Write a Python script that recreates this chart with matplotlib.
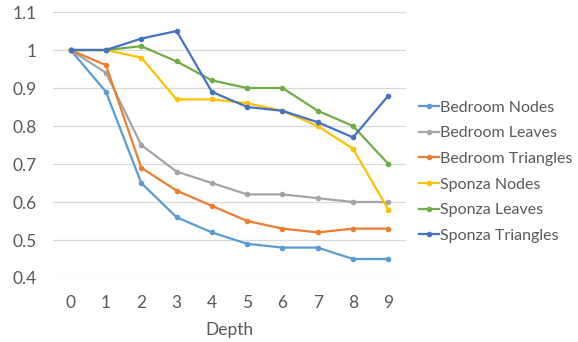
import matplotlib
matplotlib.use("Agg")
import matplotlib.pyplot as plt

depth = [0, 1, 2, 3, 4, 5, 6, 7, 8, 9]
series_names = ["Bedroom Nodes", "Bedroom Leaves", "Bedroom Triangles",
                "Sponza Nodes", "Sponza Leaves", "Sponza Triangles"]
bedroom_nodes = [1.00, 0.89, 0.65, 0.56, 0.52, 0.49, 0.48, 0.48, 0.45, 0.45]
bedroom_leaves = [1.00, 0.94, 0.75, 0.68, 0.65, 0.62, 0.62, 0.61, 0.60, 0.60]
bedroom_triangles = [1.00, 0.96, 0.69, 0.63, 0.59, 0.55, 0.53, 0.52, 0.53, 0.53]
sponza_nodes = [1.00, 1.00, 0.98, 0.87, 0.87, 0.86, 0.84, 0.80, 0.74, 0.58]
sponza_leaves = [1.00, 1.00, 1.01, 0.97, 0.92, 0.90, 0.90, 0.84, 0.80, 0.70]
sponza_triangles = [1.00, 1.00, 1.03, 1.05, 0.89, 0.85, 0.84, 0.81, 0.77, 0.88]
y_ticks = [0.4, 0.5, 0.6, 0.7, 0.8, 0.9, 1.0, 1.1]
y_tick_labels = ["0.4", "0.5", "0.6", "0.7", "0.8", "0.9", "1", "1.1"]

colors = ["#5B9BD5", "#A5A5A5", "#ED7D31", "#FFC000", "#70AD47", "#4472C4"]
values = [bedroom_nodes, bedroom_leaves, bedroom_triangles,
          sponza_nodes, sponza_leaves, sponza_triangles]

plt.rcParams["font.family"] = ["Lato", "DejaVu Sans"]
text_color = "#595959"
fs = 12.5

fig = plt.figure(figsize=(5.78, 3.42), dpi=100)
ax = fig.add_axes([53 / 578, 1 - 278 / 342, (406 - 53) / 578, (278 - 12) / 342])

for name, vals, c in zip(series_names, values, colors):
    ax.plot(depth, vals, color=c, lw=1.6, marker="o", markersize=3,
            label=name, solid_joinstyle="round")

ax.set_xlim(-0.5, 9.5)
ax.set_ylim(0.4, 1.1)
ax.set_yticks(y_ticks)
ax.set_yticklabels(y_tick_labels)
ax.set_xticks(depth)
ax.set_xticklabels([str(d) for d in depth])
ax.grid(axis="y", color="#D9D9D9", lw=0.9)
ax.set_axisbelow(True)
for s in ax.spines.values():
    s.set_visible(False)
ax.tick_params(length=0, colors=text_color, labelsize=fs)
ax.tick_params(axis="y", pad=12)
ax.tick_params(axis="x", pad=12)
ax.set_xlabel("Depth", color=text_color, fontsize=fs, labelpad=8)

leg = fig.legend(loc="upper left", bbox_to_anchor=(413 / 578, 1 - 94 / 342),
                 frameon=False, fontsize=11.5, handlelength=1.2,
                 handletextpad=0.1, labelspacing=0.72, borderaxespad=0)
for t in leg.get_texts():
    t.set_color(text_color)

fig.savefig("out.png", dpi=100)
